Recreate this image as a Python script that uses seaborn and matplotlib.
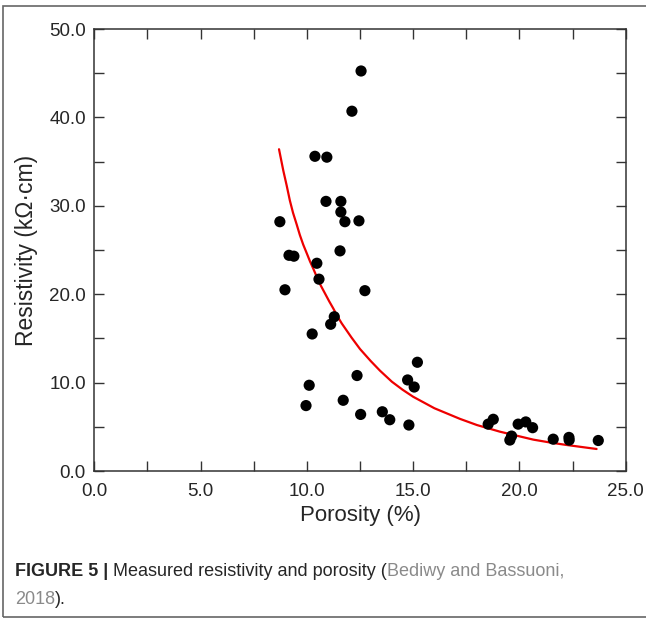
import matplotlib
matplotlib.use("Agg")
import matplotlib.pyplot as plt
from matplotlib.patches import Rectangle
from matplotlib.ticker import MultipleLocator, FormatStrFormatter
import seaborn as sns
import pandas as pd

# measured points (porosity %, resistivity kOhm.cm)
porosity = [12.55, 12.12, 10.38, 10.94, 10.9, 11.6, 11.6, 11.79, 12.45, 8.73,
            11.56, 9.16, 9.39, 10.47, 10.57, 8.97, 12.73, 11.29, 11.12, 10.25,
            12.36, 10.11, 9.96, 11.71, 12.53, 13.55, 13.9, 14.8, 14.74, 15.05,
            15.2, 18.53, 18.77, 19.55, 19.63, 19.94, 20.3, 20.62, 21.59, 22.33,
            22.34, 23.71]
resistivity = [45.25, 40.7, 35.6, 35.5, 30.5, 30.5, 29.3, 28.2, 28.3, 28.2,
               24.9, 24.4, 24.3, 23.5, 21.7, 20.5, 20.4, 17.45, 16.6, 15.5,
               10.8, 9.7, 7.4, 8.0, 6.4, 6.7, 5.8, 5.2, 10.3, 9.5,
               12.3, 5.3, 5.85, 3.5, 3.95, 5.3, 5.55, 4.9, 3.6, 3.8,
               3.5, 3.45]

# trend curve
curve_x = [8.69, 8.89, 9.05, 9.2, 9.35, 9.52, 9.67, 9.83, 10.0, 10.15, 10.3,
           10.46, 10.65, 10.85, 11.05, 11.24, 11.44, 11.64, 11.87, 12.1, 12.5,
           13.0, 13.44, 14.0, 14.5, 15.0, 16.0, 17.2, 18.0, 19.08, 20.65,
           21.5, 22.2, 23.63]
curve_y = [36.4, 34.0, 32.3, 30.6, 29.2, 27.9, 26.7, 25.6, 24.6, 23.7, 22.9,
           22.0, 21.0, 20.1, 19.2, 18.4, 17.5, 16.7, 15.9, 15.1, 13.8,
           12.45, 11.35, 10.1, 9.2, 8.4, 7.1, 5.9, 5.2, 4.45, 3.55,
           3.2, 2.95, 2.49]

x_ticks = [0, 5, 10, 15, 20, 25]
y_ticks = [0, 10, 20, 30, 40, 50]

pts = pd.DataFrame({"porosity": porosity, "resistivity": resistivity})
fit = pd.DataFrame({"porosity": curve_x, "resistivity": curve_y})

sns.set_theme(style="white")
plt.rcParams["font.family"] = ["Liberation Sans", "DejaVu Sans"]

fig = plt.figure(figsize=(6.46, 6.21), dpi=100)
ax = fig.add_axes([94.3 / 646, 1 - 471 / 621, (625.7 - 94.3) / 646, (471 - 29) / 621])

sns.lineplot(data=fit, x="porosity", y="resistivity", ax=ax, color="#ee0000",
             linewidth=1.6, sort=False, zorder=2)
sns.scatterplot(data=pts, x="porosity", y="resistivity", ax=ax, color="black",
                s=65, edgecolor="none", zorder=3)

ax.set_xlim(0, 25)
ax.set_ylim(0, 50)
ax.set_xticks(x_ticks)
ax.set_yticks(y_ticks)
ax.xaxis.set_major_formatter(FormatStrFormatter("%.1f"))
ax.yaxis.set_major_formatter(FormatStrFormatter("%.1f"))
ax.xaxis.set_minor_locator(MultipleLocator(2.5))
ax.yaxis.set_minor_locator(MultipleLocator(5))
ax.tick_params(which="both", direction="in", top=True, right=True, bottom=True,
               left=True, length=7.5, width=1, color="#333333")
ax.tick_params(axis="both", which="major", labelsize=13.5)
ax.tick_params(axis="x", which="major", pad=9)
ax.tick_params(axis="y", which="major", pad=6)
for s in ax.spines.values():
    s.set_color("#333333")
    s.set_linewidth(1.1)

ax.set_xlabel("Porosity (%)", fontsize=16, labelpad=3)
ax.set_ylabel("Resistivity (kΩ·cm)", fontsize=16.5, labelpad=8)

# caption under the chart
cap_font = ["Liberation Sans Narrow", "Liberation Sans", "DejaVu Sans"]
t1 = fig.text(15 / 646, 1 - 580 / 621, "FIGURE 5 | ", fontsize=13, fontweight="bold",
              family=cap_font, va="bottom")
t2 = ax.annotate("Measured resistivity and porosity (", xy=(1, 0), xycoords=t1,
                 fontsize=13, family=cap_font, va="bottom", annotation_clip=False)
t3 = ax.annotate("Bediwy and Bassuoni,", xy=(1, 0), xycoords=t2, color="#8a8a8a",
                 fontsize=13, family=cap_font, va="bottom", annotation_clip=False)
t4 = fig.text(15 / 646, 1 - 608 / 621, "2018", fontsize=13, family=cap_font,
              color="#8a8a8a", va="bottom")
ax.annotate(").", xy=(1, 0), xycoords=t4, fontsize=13, family=cap_font,
            va="bottom", annotation_clip=False)

# page frame: open on the right, cut by the image edge
fig.add_artist(Rectangle((3 / 646, 4 / 621), 700 / 646, 611 / 621,
                         transform=fig.transFigure, fill=False,
                         edgecolor="#666666", linewidth=1.2))

fig.savefig("out.png", dpi=100)
